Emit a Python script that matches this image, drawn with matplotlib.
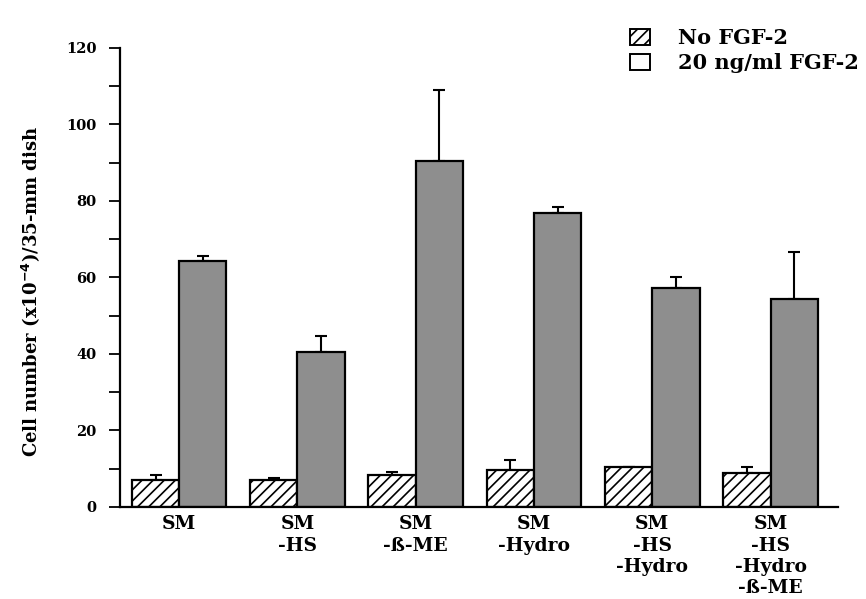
import numpy as np
import matplotlib
matplotlib.use("Agg")
import matplotlib.pyplot as plt
from matplotlib.patches import Patch

# Culture conditions and cell counts (x10^-4 cells per 35-mm dish)
conditions = ["SM", "SM\n-HS", "SM\n-ß-ME", "SM\n-Hydro", "SM\n-HS\n-Hydro", "SM\n-HS\n-Hydro\n-ß-ME"]
no_fgf = [7.1, 7.0, 8.4, 9.8, 10.4, 9.0]
no_fgf_err = [1.3, 0.7, 0.7, 2.5, 0.0, 1.4]
with_fgf = [64.4, 40.5, 90.5, 76.9, 57.3, 54.4]
with_fgf_err = [1.3, 4.1, 18.5, 1.4, 2.7, 12.3]
series_labels = ["No FGF-2", "20 ng/ml FGF-2"]
y_ticks = [0, 20, 40, 60, 80, 100, 120]

plt.rcParams["font.family"] = ["DejaVu Serif"]
plt.rcParams["font.weight"] = "bold"
plt.rcParams["hatch.linewidth"] = 1.2

fig = plt.figure(figsize=(8.66, 5.99), dpi=100)
ax = fig.add_axes([0.1386, 0.1536, 0.829, 0.7663])

x = np.arange(len(conditions))
w = 0.40
gray = "#8e8e8e"

ax.bar(x - w / 2, no_fgf, w, facecolor="white", edgecolor="black",
       linewidth=1.6, hatch="///", zorder=2)
ax.bar(x + w / 2, with_fgf, w, facecolor=gray, edgecolor="black",
       linewidth=1.6, zorder=2)

zeros = np.zeros(len(x))
ax.errorbar(x - w / 2, no_fgf, yerr=[zeros, no_fgf_err], fmt="none",
            ecolor="black", elinewidth=1.5, capsize=4.5, capthick=1.5, zorder=1)
ax.errorbar(x + w / 2, with_fgf, yerr=[zeros, with_fgf_err], fmt="none",
            ecolor="black", elinewidth=1.5, capsize=4.5, capthick=1.5, zorder=1)

ax.set_xlim(-0.5, 5.57)
ax.set_ylim(0, 120)
ax.set_yticks(y_ticks)
ax.set_yticks(np.arange(10, 120, 20), minor=True)
ax.tick_params(axis="y", which="both", direction="out", length=8, width=1.3,
               labelsize=10.5, pad=9)
ax.set_xticks(x)
ax.set_xticklabels(conditions, fontsize=13.5, fontweight="bold", linespacing=1.23)
ax.tick_params(axis="x", length=0, pad=6)

for s in ["top", "right"]:
    ax.spines[s].set_visible(False)
for s in ["left", "bottom"]:
    ax.spines[s].set_linewidth(1.6)

ax.set_ylabel("Cell number (x10$^{-4}$)/35-mm dish", fontsize=13,
              fontweight="bold")
ax.yaxis.set_label_coords(-0.108, 0.47)

handles = [Patch(facecolor="white", edgecolor="black", hatch="///", linewidth=1.4),
           Patch(facecolor="white", edgecolor="black", linewidth=1.4)]
fig.legend(handles, series_labels, loc="upper left", bbox_to_anchor=(0.7275, 0.953),
           frameon=False, fontsize=15, handlelength=0.96, handleheight=0.82,
           handletextpad=1.35, labelspacing=0.25, borderpad=0, borderaxespad=0)

fig.savefig("out.png", dpi=100)
